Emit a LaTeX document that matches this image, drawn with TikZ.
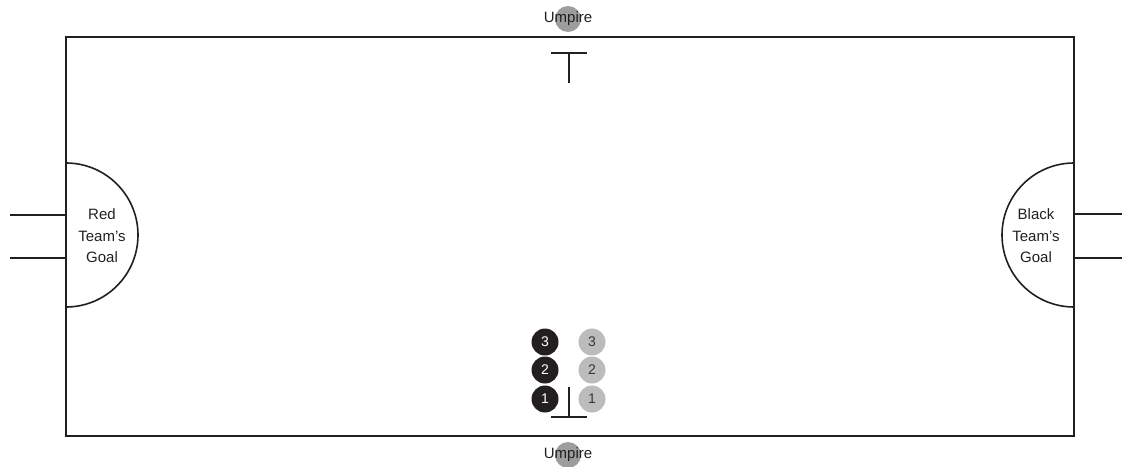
\documentclass[tikz,border=0pt]{standalone}
\usepackage{fontspec}
\setmainfont{Liberation Sans}
\usetikzlibrary{positioning}
\definecolor{ink}{HTML}{231F20}
\definecolor{umpgray}{HTML}{9D9D9D}
\definecolor{lightteam}{HTML}{BCBCBC}

\begin{document}
\begin{tikzpicture}[
    x=1pt, y=-1pt,
    font=\fontsize{15}{21.5}\selectfont,
    line/.style={draw=ink, line width=1.6pt},
    ump/.style={circle, fill=umpgray, minimum size=26pt, inner sep=0pt},
    umplabel/.style={text=ink, inner sep=0pt},
    blackp/.style={circle, fill=ink, minimum size=27pt, inner sep=0pt,
                   text=white, font=\fontsize{14}{14}\selectfont},
    greyp/.style={circle, fill=lightteam, minimum size=27pt, inner sep=0pt,
                  text=ink!90, font=\fontsize{14}{14}\selectfont},
    goaltext/.style={align=center, text=ink, inner sep=0pt},
  ]
  \useasboundingbox (0,0) rectangle (1122,466);

  % ---- field
  \draw[line] (66,37) rectangle (1074,436);

  % ---- goals
  \draw[line] (66,163) arc[start angle=-90, end angle=90, radius=72];
  \draw[line] (1074,163) arc[start angle=-90, end angle=-270, radius=72];
  \draw[line] (10,215) -- (66,215);
  \draw[line] (10,258) -- (66,258);
  \draw[line] (1074,214) -- (1122,214);
  \draw[line] (1074,258) -- (1122,258);
  \node[goaltext] (redgoal) at (102,236) {Red\\Team’s\\Goal};
  \node[goaltext] (blackgoal) at (1036,236) {Black\\Team’s\\Goal};

  % ---- face-off marks
  \draw[line] (551,53) -- (587,53);
  \draw[line] (569,53) -- (569,83);
  \draw[line] (569,387) -- (569,417);
  \draw[line] (551,417) -- (587,417);

  % ---- umpires
  \node[ump] (umptop) at (568,19) {};
  \node[umplabel] at (umptop) {Umpire};
  \node[ump] (umpbot) at (568,455) {};
  \node[umplabel] at (umpbot) {Umpire};

  % ---- players
  \foreach \n/\y in {1/399, 2/370, 3/342} {
    \node[blackp] (b\n) at (545,\y) {\n};
    \node[greyp] (g\n) at (592,\y) {\n};
  }
\end{tikzpicture}
\end{document}
